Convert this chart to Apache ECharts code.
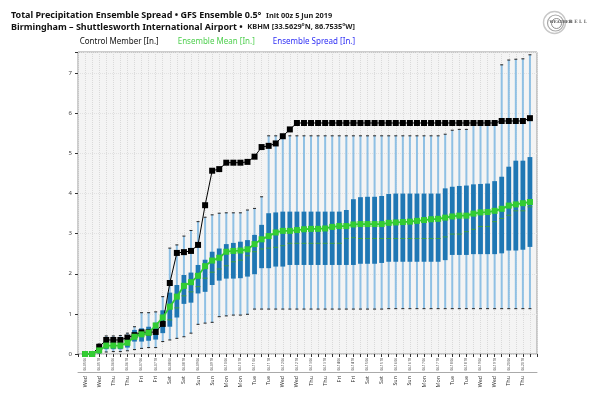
<!DOCTYPE html>
<html>
<head>
<meta charset="utf-8">
<title>Total Precipitation Ensemble Spread - GFS Ensemble 0.5</title>
<script src="https://cdn.jsdelivr.net/npm/echarts@6.0.0/dist/echarts.min.js"></script>
<style>
html, body { margin: 0; padding: 0; background: #fff; }
#chart { width: 600px; height: 402px; }
</style>
</head>
<body>
<div id="chart"></div>
<script>
var FONT = '"Noto Sans", "Open Sans", sans-serif';

// forecast hour after init 00z 5 Jun 2019
var hours = [6,12,18,24,30,36,42,48,54,60,66,72,78,84,90,96,102,108,114,120,126,132,138,144,
	150,156,162,168,174,180,186,192,198,204,210,216,222,228,234,240,246,252,258,264,270,276,282,288,
	294,300,306,312,318,324,330,336,342,348,354,360,366,372,378,384];

// labels every 12 h, starting at hour 6
var tickLabels = ['06-05 06','06-05 18','06-06 06','06-06 18','06-07 06','06-07 18','06-08 06','06-08 18',
	'06-09 06','06-09 18','06-10 06','06-10 18','06-11 06','06-11 18','06-12 06','06-12 18',
	'06-13 06','06-13 18','06-14 06','06-14 18','06-15 06','06-15 18','06-16 06','06-16 18',
	'06-17 06','06-17 18','06-18 06','06-18 18','06-19 06','06-19 18','06-20 06','06-20 18'];
var tickDays = ['Wed','Wed','Thu','Thu','Fri','Fri','Sat','Sat','Sun','Sun','Mon','Mon','Tue','Tue','Wed','Wed',
	'Thu','Thu','Fri','Fri','Sat','Sat','Sun','Sun','Mon','Mon','Tue','Tue','Wed','Wed','Thu','Thu'];

var controlMember = [0,0,0.18,0.35,0.35,0.35,0.41,0.47,0.54,0.54,
	0.55,0.75,1.77,2.52,2.54,2.57,2.72,3.71,4.57,4.61,
	4.77,4.77,4.77,4.79,4.92,5.16,5.19,5.25,5.43,5.60,
	5.76,5.76,5.76,5.76,5.76,5.76,5.76,5.76,5.76,5.76,
	5.76,5.76,5.76,5.76,5.76,5.76,5.76,5.76,5.76,5.76,
	5.76,5.76,5.76,5.76,5.76,5.76,5.76,5.76,5.76,5.81,
	5.81,5.81,5.81,5.88];

var ensembleMean = [0,0,0.09,0.21,0.21,0.21,0.28,0.43,0.49,0.53,
	0.71,0.91,1.18,1.43,1.70,1.79,1.95,2.19,2.33,2.40,
	2.55,2.57,2.58,2.61,2.74,2.86,2.94,3.03,3.07,3.07,
	3.09,3.11,3.12,3.12,3.13,3.17,3.19,3.19,3.23,3.24,
	3.24,3.24,3.24,3.27,3.28,3.29,3.30,3.32,3.34,3.36,
	3.37,3.40,3.43,3.45,3.45,3.50,3.53,3.54,3.57,3.62,
	3.70,3.73,3.76,3.79];

// ensemble spread: whisker min, box bottom, median, box top, whisker max
var spreadMin = [0,0,0,0.05,0.06,0.06,0.08,0.11,0.14,0.16,
	0.16,0.31,0.35,0.39,0.43,0.52,0.74,0.77,0.79,0.93,
	0.95,0.97,0.97,0.99,1.12,1.12,1.12,1.12,1.12,1.12,
	1.12,1.12,1.12,1.12,1.12,1.12,1.12,1.12,1.12,1.12,
	1.12,1.12,1.12,1.13,1.13,1.13,1.13,1.13,1.13,1.13,
	1.13,1.13,1.13,1.13,1.13,1.13,1.13,1.13,1.13,1.13,
	1.13,1.13,1.13,1.13];
var spreadQ1 = [0,0,0.02,0.12,0.12,0.12,0.16,0.31,0.31,0.33,
	0.36,0.52,0.68,0.91,1.25,1.28,1.51,1.55,1.72,1.83,
	1.88,1.88,1.89,1.93,1.99,2.14,2.14,2.18,2.18,2.22,
	2.22,2.22,2.22,2.22,2.22,2.22,2.22,2.22,2.22,2.25,
	2.25,2.25,2.27,2.30,2.30,2.30,2.30,2.30,2.30,2.30,
	2.30,2.34,2.47,2.47,2.47,2.49,2.49,2.49,2.49,2.51,
	2.58,2.58,2.60,2.67];
var spreadMedian = [0,0,0.06,0.18,0.18,0.18,0.24,0.42,0.45,0.47,
	0.55,0.78,0.85,1.15,1.45,1.55,1.68,1.89,2.04,2.12,
	2.20,2.30,2.34,2.45,2.55,2.62,2.64,2.66,2.70,2.76,
	2.76,2.76,2.76,2.76,2.76,2.76,2.76,2.88,2.90,2.88,
	2.88,2.88,2.88,2.88,2.88,2.88,2.88,2.88,2.88,2.88,
	2.88,2.92,2.99,2.99,3.05,3.11,3.18,3.18,3.30,3.38,
	3.46,3.57,3.57,3.67];
var spreadQ3 = [0,0,0.13,0.31,0.31,0.31,0.40,0.60,0.64,0.68,
	0.78,1.09,1.53,1.72,1.97,2.03,2.22,2.35,2.55,2.63,
	2.74,2.77,2.80,2.84,2.97,3.22,3.51,3.53,3.55,3.55,
	3.55,3.55,3.55,3.55,3.55,3.55,3.55,3.59,3.86,3.91,
	3.92,3.92,3.94,3.99,4.00,4.00,4.00,4.00,4.00,4.00,
	4.00,4.13,4.17,4.19,4.20,4.23,4.24,4.25,4.31,4.42,
	4.67,4.82,4.82,4.91];
var spreadMax = [0,0.02,0.25,0.45,0.45,0.46,0.52,0.68,1.03,1.03,
	1.05,1.43,2.64,2.72,2.94,3.08,3.30,3.41,3.47,3.51,
	3.52,3.52,3.52,3.59,3.63,3.92,5.44,5.44,5.44,5.44,
	5.44,5.44,5.44,5.44,5.44,5.44,5.44,5.44,5.44,5.44,
	5.44,5.44,5.44,5.44,5.44,5.44,5.44,5.44,5.44,5.44,
	5.44,5.48,5.58,5.60,5.60,5.74,5.74,5.74,5.74,7.21,
	7.33,7.35,7.36,7.46];

var controlData = hours.map(function(h, i){ return [h, controlMember[i]]; });
var meanData = hours.map(function(h, i){ return [h, ensembleMean[i]]; });
var spreadData = hours.map(function(h, i){
	return [h, spreadMin[i], spreadQ1[i], spreadMedian[i], spreadQ3[i], spreadMax[i]];
});

function labelAt(list){
	return function(v){
		var k = (v - 6) / 12;
		return (k >= 0 && k === Math.floor(k) && k < list.length) ? list[k] : '';
	};
}

function renderSpread(params, api){
	var x = api.value(0);
	var lo = api.coord([x, api.value(1)]);
	var q1 = api.coord([x, api.value(2)]);
	var md = api.coord([x, api.value(3)]);
	var q3 = api.coord([x, api.value(4)]);
	var hi = api.coord([x, api.value(5)]);
	var half = 2.4;
	var cap = 1.5;

	if (hi[1] >= lo[1] - 0.5) return null;

	return {
		type: 'group',
		children: [
			{ type: 'line', shape: { x1: lo[0], y1: lo[1], x2: hi[0], y2: hi[1] },
				style: { stroke: '#8fc0e4', lineWidth: 2 } },
			{ type: 'line', shape: { x1: hi[0] - cap, y1: hi[1], x2: hi[0] + cap, y2: hi[1] },
				style: { stroke: '#222', lineWidth: 1 } },
			{ type: 'line', shape: { x1: lo[0] - cap, y1: lo[1], x2: lo[0] + cap, y2: lo[1] },
				style: { stroke: '#222', lineWidth: 1 } },
			{ type: 'rect', shape: { x: q3[0] - half, y: q3[1], width: half * 2, height: Math.max(q1[1] - q3[1], 0.5) },
				style: { fill: '#1f77b4' } },
			{ type: 'line', shape: { x1: md[0] - half, y1: md[1], x2: md[0] + half, y2: md[1] },
				style: { stroke: '#3f9f3f', lineWidth: 1 } }
		]
	};
}

var chart = echarts.init(document.getElementById('chart'), null, { renderer: 'canvas' });

chart.setOption({
	animation: false,
	backgroundColor: '#fff',
	textStyle: { fontFamily: FONT },
	title: [{
		left: 11,
		top: 6.5,
		padding: 0,
		text: '{b|Total Precipitation Ensemble Spread • GFS Ensemble 0.5°} {r|Init 00z 5 Jun 2019}',
		textStyle: {
			rich: {
				b: { fontFamily: FONT, fontSize: 9, fontWeight: 'bold', color: '#111', lineHeight: 10 },
				r: { fontFamily: FONT, fontSize: 7.4, color: '#222', lineHeight: 10 }
			}
		}
	}, {
		left: 11,
		top: 18,
		padding: 0,
		text: '{b|Birmingham – Shuttlesworth International Airport •} {r|KBHM [33.5629°N, 86.7535°W]}',
		textStyle: {
			rich: {
				b: { fontFamily: FONT, fontSize: 9, fontWeight: 'bold', color: '#111', lineHeight: 10 },
				r: { fontFamily: FONT, fontSize: 7.4, color: '#222', lineHeight: 10 }
			}
		}
	}],
	legend: {
		left: 73.7,
		top: 38,
		padding: 0,
		itemGap: 13,
		itemWidth: 0,
		itemHeight: 0,
		selectedMode: false,
		textStyle: { fontFamily: FONT, fontSize: 8 },
		data: [
			{ name: 'Control Member [In.]', textStyle: { color: '#111' } },
			{ name: 'Ensemble Mean [In.]', textStyle: { color: '#4fcf4f' } },
			{ name: 'Ensemble Spread [In.]', textStyle: { color: '#2f2ff5' } }
		]
	},
	graphic: [{
		type: 'group',
		left: 541,
		top: 9,
		children: [
			{ type: 'circle', shape: { cx: 12, cy: 11, r: 11 }, style: { fill: 'none', stroke: '#c8c8c8', lineWidth: 1.4 } },
			{ type: 'circle', shape: { cx: 13, cy: 11.5, r: 8 }, style: { fill: 'none', stroke: '#a8a8a8', lineWidth: 1.2 } },
			{ type: 'circle', shape: { cx: 14, cy: 12, r: 5 }, style: { fill: 'none', stroke: '#909090', lineWidth: 1 } },
			{ type: 'text', x: 7, y: 9, style: { text: 'WEATHER', fontFamily: '"DejaVu Serif", serif', fontSize: 3.8, fontWeight: 'bold', fill: '#555' } },
			{ type: 'text', x: 26.5, y: 8.5, style: { text: 'B E L L', fontFamily: '"DejaVu Serif", serif', fontSize: 4.4, fontWeight: 'bold', fill: '#666' } }
		]
	}],
	grid: {
		left: 78,
		top: 52,
		width: 459,
		height: 302,
		show: true,
		backgroundColor: '#f4f4f4',
		borderColor: '#9a9a9a',
		borderWidth: 1
	},
	xAxis: [{
		type: 'value',
		min: 0,
		max: 390,
		interval: 6,
		position: 'bottom',
		axisLine: { show: false },
		axisTick: { show: true, length: 3, lineStyle: { color: '#333' } },
		splitLine: { show: true, lineStyle: { color: '#dadada', type: 'dotted', width: 1 } },
		axisLabel: {
			rotate: 90,
			margin: 4,
			fontSize: 3.1,
			color: '#333',
			fontFamily: FONT,
			formatter: labelAt(tickLabels)
		}
	}, {
		type: 'value',
		min: 0,
		max: 390,
		interval: 6,
		position: 'bottom',
		offset: 18,
		axisLine: { show: true, lineStyle: { color: '#aaa', width: 1 } },
		axisTick: { show: false },
		splitLine: { show: false },
		axisLabel: {
			rotate: 90,
			margin: 4,
			fontSize: 5.4,
			color: '#333',
			fontFamily: FONT,
			formatter: labelAt(tickDays)
		}
	}],
	yAxis: {
		type: 'value',
		min: 0,
		max: 7.53,
		interval: 1,
		axisLine: { show: false },
		axisTick: { show: true, length: 3, lineStyle: { color: '#333' } },
		splitLine: { show: true, lineStyle: { color: '#e2e2e2', type: 'dotted' } },
		axisLabel: {
			fontSize: 6,
			color: '#444',
			margin: 6,
			fontFamily: FONT,
			formatter: function(v){ return (v % 1 === 0) ? String(v) : ''; }
		}
	},
	series: [{
		name: 'Ensemble Spread [In.]',
		type: 'custom',
		xAxisIndex: 0,
		renderItem: renderSpread,
		encode: { x: 0, y: [1, 2, 3, 4, 5] },
		itemStyle: { color: '#1f77b4' },
		clip: true,
		z: 2,
		data: spreadData
	}, {
		name: 'Control Member [In.]',
		type: 'line',
		xAxisIndex: 0,
		symbol: 'rect',
		symbolSize: 6,
		itemStyle: { color: '#000' },
		lineStyle: { color: '#000', width: 1 },
		z: 3,
		data: controlData
	}, {
		name: 'Ensemble Mean [In.]',
		type: 'line',
		xAxisIndex: 0,
		symbol: 'rect',
		symbolSize: 6,
		itemStyle: { color: '#33cc33' },
		lineStyle: { color: '#33cc33', width: 1.8 },
		z: 4,
		data: meanData
	}]
});
</script>
</body>
</html>
